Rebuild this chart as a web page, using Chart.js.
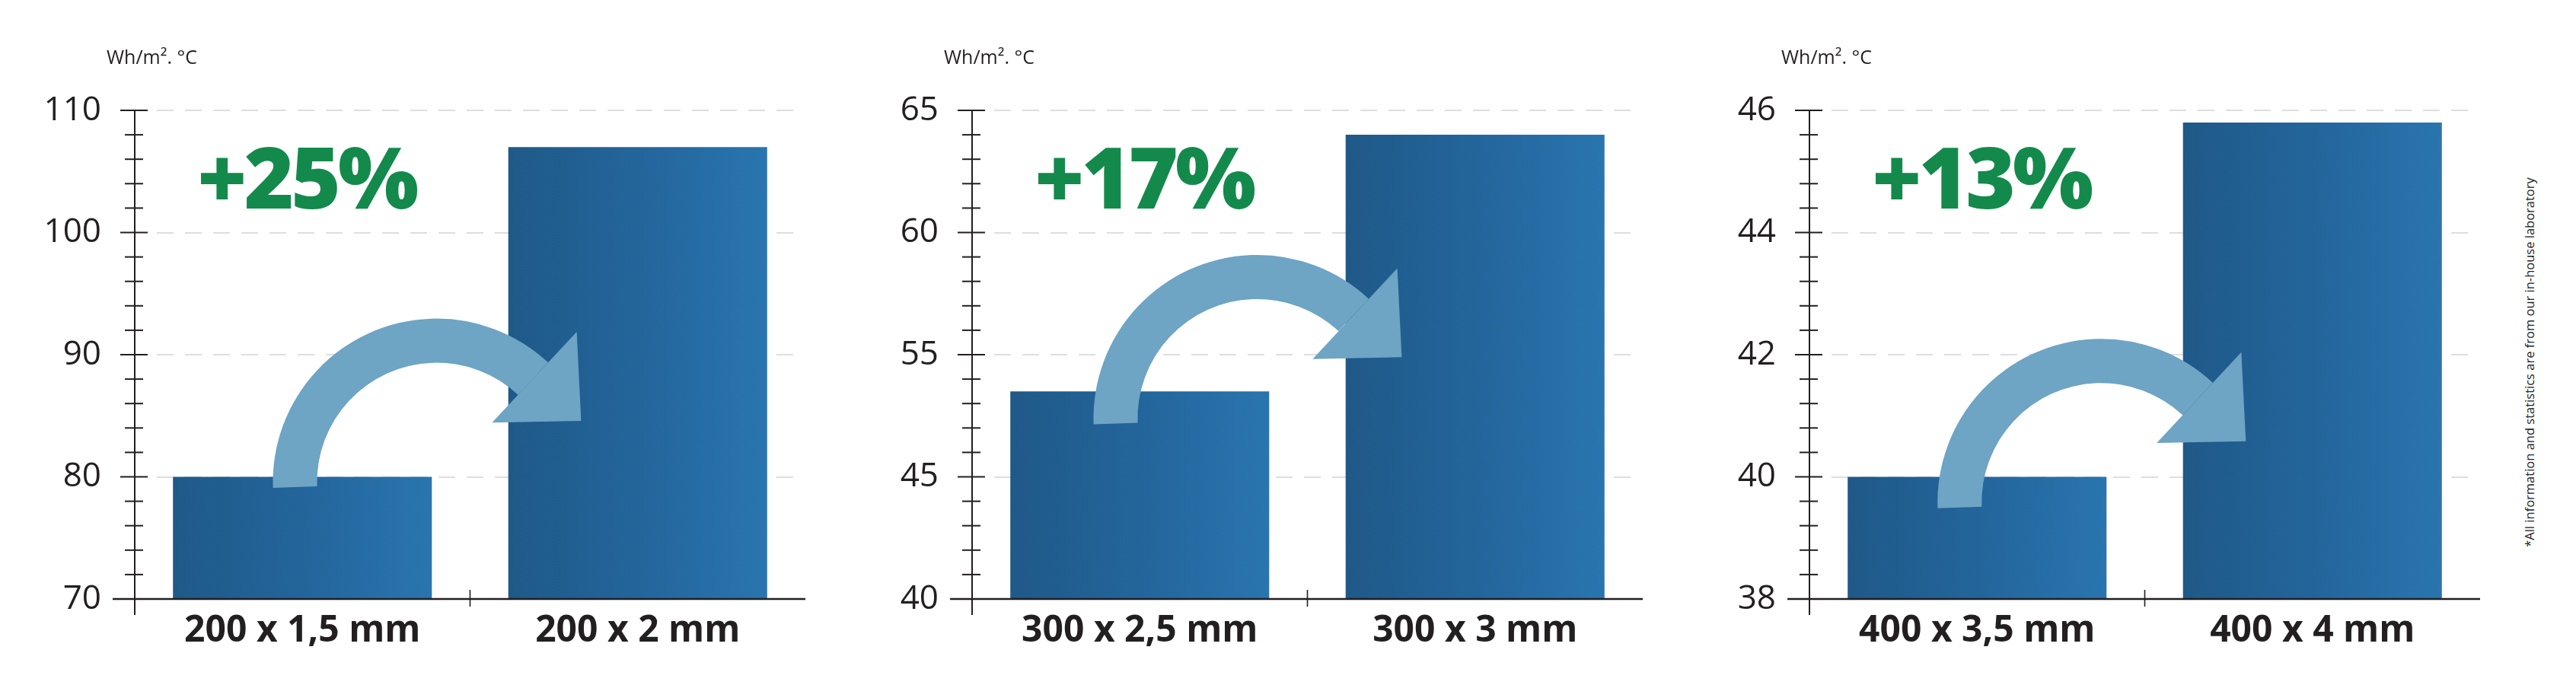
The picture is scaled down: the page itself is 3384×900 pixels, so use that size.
<!DOCTYPE html>
<html>
<head>
<meta charset="utf-8">
<script src="https://cdn.jsdelivr.net/npm/chart.js@4.4.1/dist/chart.umd.min.js"></script>
<style>
  html, body { margin: 0; padding: 0; background: #ffffff; }
  body { width: 3384px; height: 900px; position: relative; overflow: hidden; }
  .panel { position: absolute; top: 0; width: 1100px; height: 900px; }
  #note {
    position: absolute; left: 3322px; top: 476px;
    transform: translate(-50%, -50%) rotate(-90deg);
    white-space: nowrap; font: 16.5px "Open Sans", sans-serif; color: #222222;
  }
</style>
</head>
<body>
<div class="panel" style="left:0px"><canvas id="c1" width="1100" height="900"></canvas></div>
<div class="panel" style="left:1100px"><canvas id="c2" width="1100" height="900"></canvas></div>
<div class="panel" style="left:2200px"><canvas id="c3" width="1100" height="900"></canvas></div>
<div id="note">*All information and statistics are from our in-house laboratory</div>
<script>
// ---------- DATA ----------
const categories1 = ['200 x 1,5 mm', '200 x 2 mm'];
const values1 = [80, 107];
const yTicks1 = [70, 80, 90, 100, 110];
const gain1 = '+25%';

const categories2 = ['300 x 2,5 mm', '300 x 3 mm'];
const values2 = [52, 64];
const yTicks2 = [40, 45, 55, 60, 65];
const gain2 = '+17%';

const categories3 = ['400 x 3,5 mm', '400 x 4 mm'];
const values3 = [40, 45.8];
const yTicks3 = [38, 40, 42, 44, 46];
const gain3 = '+13%';

const unitLabel = 'Wh/m². °C';

// arrow anchors (category position, axis value) – decoration placement
const arrowAnchors = [
  { cat: 0.40, val: 79.56 },
  { cat: 0.35, val: 49.77 },
  { cat: 0.37, val: 39.58 }
];

// ---------- STYLE ----------
const INK = '#231f20';
const GREEN = '#138a4b';
const ARROW = '#6ea4c4';
const BAR_PCT = 0.772;

// ---------- piecewise axis (evenly spaced labelled breaks) ----------
const LinearScale = Chart.registry.getScale('linear');
class PiecewiseScale extends LinearScale {
  buildTicks() { return this.options.breaks.map(v => ({ value: v })); }
  _segPos(value) {
    const b = this.options.breaks, n = b.length - 1;
    if (!(value > b[0])) return 0;
    if (value >= b[n]) return n + (value - b[n]) / (b[n] - b[n - 1]);
    let i = 0;
    while (value > b[i + 1]) i++;
    return i + (value - b[i]) / (b[i + 1] - b[i]);
  }
  getPixelForValue(value) {
    return this.getPixelForDecimal(this._segPos(value) / (this.options.breaks.length - 1));
  }
  getValueForPixel(pixel) {
    const b = this.options.breaks, n = b.length - 1;
    const f = this.getDecimalForPixel(pixel) * n;
    const i = Math.max(0, Math.min(n - 1, Math.floor(f)));
    return b[i] + (f - i) * (b[i + 1] - b[i]);
  }
}
PiecewiseScale.id = 'piecewise';
PiecewiseScale.defaults = LinearScale.defaults;
Chart.register(PiecewiseScale);

function drawArrow(ctx, cx, cy) {
  const Ro = 215, Ri = 157;
  const a0 = Math.PI - 0.035;
  const ae = 2 * Math.PI - 47 * Math.PI / 180;
  ctx.fillStyle = ARROW;
  ctx.beginPath();
  ctx.arc(cx, cy, Ro, a0, ae, false);
  ctx.arc(cx, cy, Ri, ae, a0, true);
  ctx.closePath();
  ctx.fill();
  const c = Math.cos(ae), s = Math.sin(ae);
  const tx = -s, ty = c;
  const R1 = 270, R2 = 107, Rm = (R1 + R2) / 2, L = 84;
  ctx.beginPath();
  ctx.moveTo(cx + R1 * c, cy + R1 * s);
  ctx.lineTo(cx + Rm * c + L * tx, cy + Rm * s + L * ty);
  ctx.lineTo(cx + R2 * c, cy + R2 * s);
  ctx.closePath();
  ctx.fill();
}

function makeDeco(gain, anchor) {
  return {
    id: 'deco',
    beforeDatasetsDraw(chart) {
      const { ctx, chartArea: a, scales: { y } } = chart;
      ctx.save();
      ctx.strokeStyle = '#dedede';
      ctx.lineWidth = 2;
      ctx.setLineDash([22, 15]);
      y.ticks.forEach((t, i) => {
        if (i === 0) return;
        const py = Math.round(y.getPixelForTick(i));
        ctx.beginPath();
        ctx.moveTo(a.left + 29, py);
        ctx.lineTo(a.right - 6, py);
        ctx.stroke();
      });
      ctx.restore();
    },
    afterDatasetsDraw(chart) {
      const { ctx, chartArea: a, scales: { x, y } } = chart;
      ctx.save();
      // arrow
      drawArrow(ctx, x.getPixelForValue(anchor.cat), y.getPixelForValue(anchor.val));
      // axes
      ctx.strokeStyle = INK;
      ctx.lineWidth = 2;
      ctx.beginPath();
      ctx.moveTo(a.left, a.top);
      ctx.lineTo(a.left, a.bottom + 21);
      ctx.stroke();
      ctx.lineWidth = 2.6;
      ctx.beginPath();
      ctx.moveTo(a.left - 29, a.bottom);
      ctx.lineTo(a.right, a.bottom);
      ctx.stroke();
      // y ticks (major + minor)
      ctx.lineWidth = 2;
      const n = y.ticks.length;
      for (let i = 0; i < n; i++) {
        const py = y.getPixelForTick(i);
        ctx.beginPath();
        ctx.moveTo(a.left - 19, py);
        ctx.lineTo(a.left + 17, py);
        ctx.stroke();
        if (i < n - 1) {
          const py2 = y.getPixelForTick(i + 1);
          for (let k = 1; k < 5; k++) {
            const m = py + (py2 - py) * k / 5;
            ctx.beginPath();
            ctx.moveTo(a.left - 13, m);
            ctx.lineTo(a.left + 11, m);
            ctx.stroke();
          }
        }
      }
      // category separator tick
      ctx.lineWidth = 1.6;
      const px = x.getPixelForValue(0.5);
      ctx.beginPath();
      ctx.moveTo(px, a.bottom - 12);
      ctx.lineTo(px, a.bottom + 10);
      ctx.stroke();
      // unit label
      ctx.fillStyle = INK;
      ctx.font = '25px "Open Sans", sans-serif';
      ctx.textAlign = 'left';
      ctx.textBaseline = 'alphabetic';
      ctx.fillText(unitLabel, a.left - 37, a.top - 61);
      // gain label
      ctx.fillStyle = GREEN;
      ctx.font = '800 112px "Open Sans", sans-serif';
      try { ctx.letterSpacing = '-4px'; } catch (e) {}
      ctx.fillText(gain, a.left + 82, a.top + 129);
      ctx.restore();
    }
  };
}

function barColor(c) {
  const chart = c.chart, xs = chart.scales && chart.scales.x;
  if (!xs || c.dataIndex === undefined || !chart.chartArea) return '#245f94';
  const cx = xs.getPixelForValue(c.dataIndex);
  const w = xs.width / chart.data.labels.length * BAR_PCT;
  const g = chart.ctx.createLinearGradient(cx - w / 2, 0, cx + w / 2, 0);
  g.addColorStop(0, '#1f5988');
  g.addColorStop(0.5, '#23659b');
  g.addColorStop(1, '#2a75af');
  return g;
}

function build(id, labels, values, ticks, gain, anchor) {
  return new Chart(document.getElementById(id), {
    type: 'bar',
    data: {
      labels: labels,
      datasets: [{
        data: values,
        backgroundColor: barColor,
        borderWidth: 0,
        barPercentage: BAR_PCT,
        categoryPercentage: 1
      }]
    },
    options: {
      responsive: false,
      animation: false,
      events: [],
      layout: { padding: { top: 145, right: 42, bottom: 0, left: 0 } },
      plugins: { legend: { display: false }, tooltip: { enabled: false } },
      scales: {
        x: {
          type: 'category',
          offset: true,
          grid: { display: false, drawTicks: false },
          border: { display: false },
          ticks: {
            color: INK,
            padding: 14,
            font: { family: '"Open Sans", sans-serif', size: 48, weight: 'bold' }
          },
          afterFit: s => { s.height = 113; }
        },
        y: {
          type: 'piecewise',
          breaks: ticks,
          min: ticks[0],
          max: ticks[ticks.length - 1],
          grid: { display: false, drawTicks: false },
          border: { display: false },
          ticks: {
            color: INK,
            padding: 44,
            font: { family: '"Open Sans", sans-serif', size: 44, weight: 'normal' },
            callback: v => String(v)
          },
          afterFit: s => { s.width = 177; }
        }
      }
    },
    plugins: [makeDeco(gain, anchor)]
  });
}

build('c1', categories1, values1, yTicks1, gain1, arrowAnchors[0]);
build('c2', categories2, values2, yTicks2, gain2, arrowAnchors[1]);
build('c3', categories3, values3, yTicks3, gain3, arrowAnchors[2]);
</script>
</body>
</html>
